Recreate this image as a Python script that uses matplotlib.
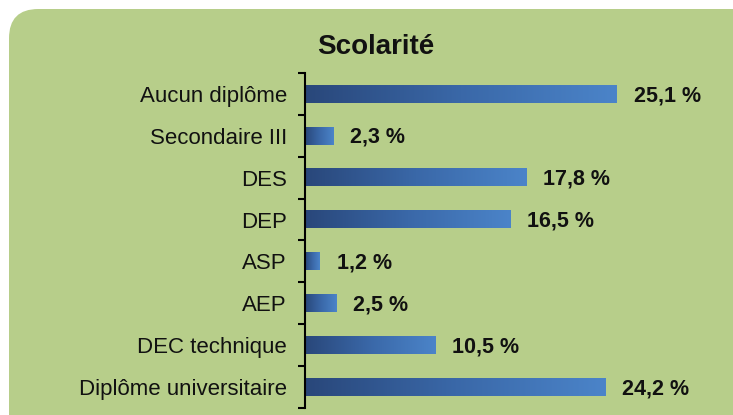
import numpy as np
import matplotlib
matplotlib.use("Agg")
import matplotlib.pyplot as plt
from matplotlib.colors import LinearSegmentedColormap
from matplotlib.patches import FancyBboxPatch

plt.rcParams["font.family"] = ["Liberation Sans", "DejaVu Sans"]

categories = ["Aucun diplôme", "Secondaire III", "DES", "DEP", "ASP", "AEP",
              "DEC technique", "Diplôme universitaire"]
values = [25.1, 2.3, 17.8, 16.5, 1.2, 2.5, 10.5, 24.2]
value_labels = ["25,1 %", "2,3 %", "17,8 %", "16,5 %", "1,2 %", "2,5 %", "10,5 %", "24,2 %"]

BG = "#b7ce8a"
bar_cmap = LinearSegmentedColormap.from_list("bar", ["#29477a", "#3a68a8", "#4b84c9"])

W, H = 733, 415
fig = plt.figure(figsize=(W / 100, H / 100), dpi=100)
fig.patch.set_facecolor("white")

# rounded green panel, behind everything
panel = FancyBboxPatch((9 / W, -30 / H), (W + 20) / W, (H + 21) / H,
                       boxstyle="round,pad=0,rounding_size=0.04",
                       transform=fig.transFigure, facecolor=BG, edgecolor="none",
                       mutation_aspect=W / H, zorder=-10)
fig.patches.append(panel)

ax = fig.add_axes([305 / W, 7 / H, 415 / W, 335 / H])
ax.set_facecolor("none")
ax.set_zorder(1)

n = len(categories)
ypos = np.arange(n)
bar_h = 0.42
grad = np.linspace(0, 1, 256).reshape(1, -1)
for y, v, lab in zip(ypos, values, value_labels):
    ax.imshow(grad, cmap=bar_cmap, aspect="auto", interpolation="bilinear",
              extent=(0, v, y + bar_h / 2, y - bar_h / 2), zorder=2)
    ax.annotate(lab, (v, y + 0.04), xytext=(12, 0), textcoords="offset points",
                va="center", ha="left", fontsize=15.5, fontweight="bold", color="#111")

ax.set_xlim(0, 33.4)
ax.set_ylim(n - 0.5, -0.5)
ax.set_yticks(ypos)
ax.set_yticklabels(categories, fontsize=16, color="#111")
ax.set_yticks(np.arange(n + 1) - 0.5, minor=True)
ax.tick_params(axis="y", which="major", length=0, pad=13)
ax.tick_params(axis="y", which="minor", length=5, width=1.5, color="black")
ax.set_xticks([])
for s in ("top", "right", "bottom"):
    ax.spines[s].set_visible(False)
ax.spines["left"].set_linewidth(1.5)

fig.text(376 / W, 1 - 47 / H, "Scolarité", ha="center", va="center",
         fontsize=20, fontweight="bold", color="#111")

fig.savefig("out.png", dpi=100, facecolor=fig.get_facecolor())
